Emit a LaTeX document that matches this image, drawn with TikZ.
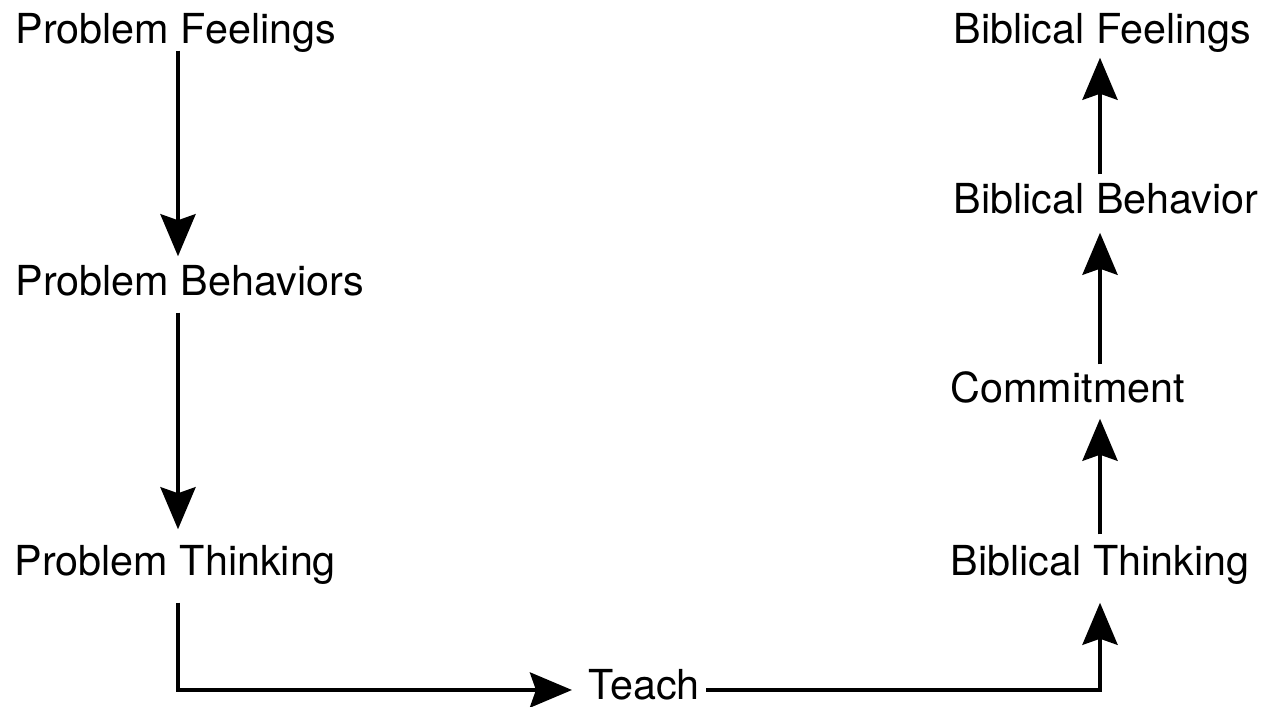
\documentclass[tikz,border=0pt]{standalone}
\usepackage{fontspec}
\setmainfont{TeX Gyre Heros}
\usetikzlibrary{arrows.meta,positioning}

\begin{document}
\begin{tikzpicture}[x=0.01cm, y=-0.01cm,
  lbl/.style={anchor=base west, inner sep=0pt, text height=0.31cm, text depth=0.10cm,
              font=\fontsize{11.75}{14}\selectfont},
  link/.style={-{Stealth[length=0.42cm, width=0.35cm, inset=0.06cm]}, line width=1.2pt}]
  \useasboundingbox (0,0) rectangle (1270,707);
  \coordinate (lcol) at (178,0);
  \coordinate (rcol) at (1100,0);
  \node[lbl] (pf) at (15,44) {Problem Feelings};
  \node[lbl] (pb) at (15,296) {Problem Behaviors};
  \node[lbl] (pt) at (14,576) {Problem Thinking};
  \node[lbl] (teach) at (588,699) {Teach};
  \node[lbl] (bt) at (950,576) {Biblical Thinking};
  \node[lbl] (cm) at (950,403) {Commitment};
  \node[lbl] (bb) at (953,214) {Biblical Behavior};
  \node[lbl] (bf) at (953,44) {Biblical Feelings};
  \draw[link, shorten <=-0.04cm, shorten >=0.08cm] (pf.south -| lcol) -- (pb.north -| lcol);
  \draw[link, shorten <=0.06cm, shorten >=0.15cm] (pb.south -| lcol) -- (pt.north -| lcol);
  \draw[link, shorten <=0.16cm, shorten >=0.16cm] (pt.south -| lcol) |- ([yshift=-0.015cm]teach.west);
  \draw[link, shorten <=0.06cm, shorten >=0.16cm] ([yshift=-0.015cm]teach.east) -| (bt.south -| rcol);
  \draw[link, shorten <=0.10cm, shorten >=0.05cm] (bt.north -| rcol) -- (cm.south -| rcol);
  \draw[link, shorten <=0.07cm, shorten >=0.08cm] (cm.north -| rcol) -- (bb.south -| rcol);
  \draw[link, shorten <=0.08cm, shorten >=0.03cm] (bb.north -| rcol) -- (bf.south -| rcol);
\end{tikzpicture}
\end{document}
